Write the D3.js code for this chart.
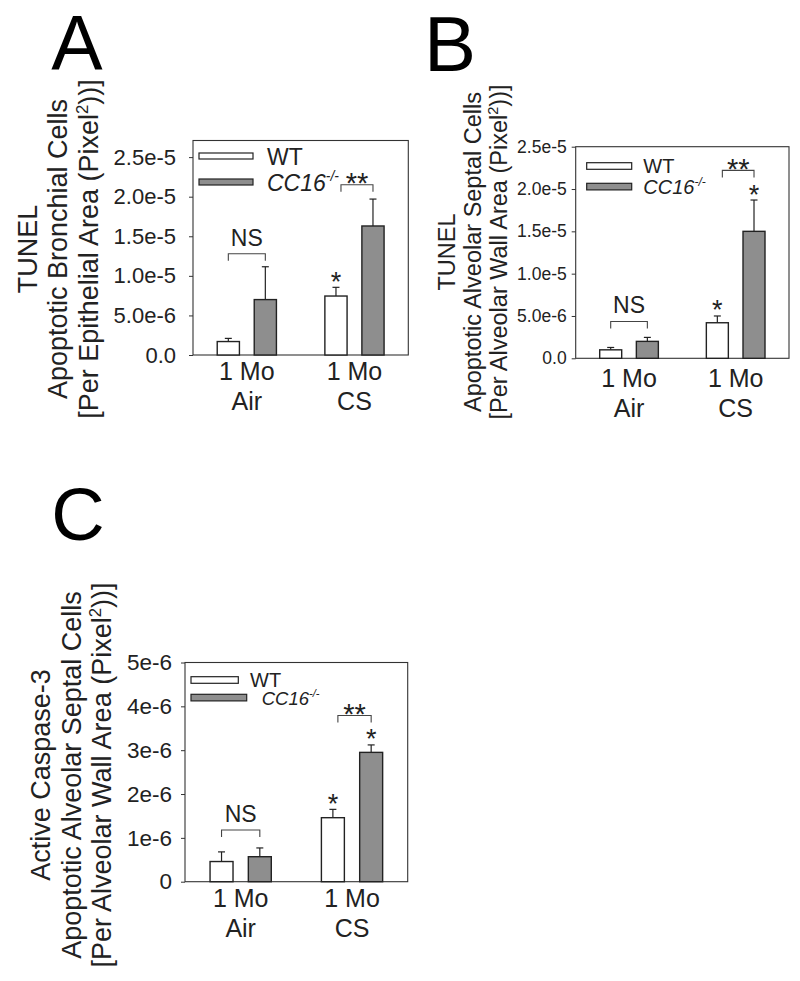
<!DOCTYPE html>
<html>
<head>
<meta charset="utf-8">
<script src="https://cdn.jsdelivr.net/npm/d3@7"></script>
<style>
  body { margin: 0; background: #fff; }
  svg { display: block; font-family: "Liberation Sans", Arial, sans-serif; }
</style>
</head>
<body>
<div id="chart"></div>
<script>
// categories / series
const categories = ['Air', 'CS'];
const catLine1 = '1 Mo';
const series = ['WT', 'CC16'];

// A: TUNEL, bronchial cells
const bronchWT = [1.7e-6, 7.45e-6];
const bronchWTErr = [0.4e-6, 1.1e-6];
const bronchKO = [7.0e-6, 1.63e-5];
const bronchKOErr = [4.15e-6, 3.4e-6];
const bronchTicks = [0, 5e-6, 1e-5, 1.5e-5, 2e-5, 2.5e-5];

// B: TUNEL, alveolar septal cells
const septalWT = [1.0e-6, 4.2e-6];
const septalWTErr = [0.28e-6, 0.8e-6];
const septalKO = [2.0e-6, 1.5e-5];
const septalKOErr = [0.47e-6, 3.7e-6];
const septalTicks = [0, 5e-6, 1e-5, 1.5e-5, 2e-5, 2.5e-5];

// C: active caspase-3, alveolar septal cells
const caspWT = [0.46e-6, 1.46e-6];
const caspWTErr = [0.22e-6, 0.19e-6];
const caspKO = [0.57e-6, 2.95e-6];
const caspKOErr = [0.2e-6, 0.17e-6];
const caspTicks = [0, 1e-6, 2e-6, 3e-6, 4e-6, 5e-6];

// significance annotations: bracket levels (data units), starred bars [catIdx, seriesIdx]
const bronchBrackets = { ns: 1.28e-5, ss: 2.15e-5 };
const bronchStars = [[1, 0]];
const septalBrackets = { ns: 4.35e-6, ss: 2.22e-5 };
const septalStars = [[1, 0], [1, 1]];
const caspBrackets = { ns: 1.18e-6, ss: 3.79e-6 };
const caspStars = [[1, 0], [1, 1]];

const fmtSci = v => v === 0 ? '0.0' : v.toExponential(1);
const fmtInt = v => v === 0 ? '0' : v.toExponential(0);

const GRAY = '#8e8e8e';
const INK = '#222';

const svg = d3.select('#chart').append('svg')
  .attr('width', 800)
  .attr('height', 981)
  .attr('viewBox', '0 0 800 981');

svg.append('rect').attr('width', 800).attr('height', 981).attr('fill', '#fff');

function drawPanel(cfg) {
  const g = svg.append('g');
  const { x0, x1, y0, y1 } = cfg.frame;

  const y = d3.scaleLinear().domain([0, cfg.yMax]).range([y1, y0]);
  const x = d3.scaleBand().domain(categories).range([x0, x1])
    .paddingInner(0.45).paddingOuter(0.225);
  const xs = d3.scaleBand().domain(series).range([0, x.bandwidth()]).paddingInner(0.4);

  // y axis
  const axis = g.append('g')
    .attr('transform', `translate(${x0},0)`)
    .call(d3.axisLeft(y).tickValues(cfg.ticks).tickFormat(cfg.fmt)
      .tickSizeInner(4).tickSizeOuter(0).tickPadding(cfg.tickPad));
  axis.select('.domain').remove();
  axis.selectAll('line').attr('stroke', '#333');
  axis.selectAll('text')
    .attr('font-size', cfg.tickSize)
    .attr('fill', INK)
    .attr('font-family', '"Liberation Sans", Arial, sans-serif');

  // frame
  g.append('rect')
    .attr('x', x0).attr('y', y0)
    .attr('width', x1 - x0).attr('height', y1 - y0)
    .attr('fill', 'none').attr('stroke', '#333').attr('stroke-width', 1.1);

  const rows = [];
  categories.forEach((c, i) => {
    rows.push({ cat: c, s: 'WT', v: cfg.wt[i], e: cfg.wtErr[i] });
    rows.push({ cat: c, s: 'CC16', v: cfg.ko[i], e: cfg.koErr[i] });
  });
  const cx = d => x(d.cat) + xs(d.s) + xs.bandwidth() / 2;

  // error bars (upper only)
  const err = g.append('g').attr('stroke', INK).attr('stroke-width', 1.2);
  err.selectAll('line.stem').data(rows).join('line')
    .attr('x1', cx).attr('x2', cx)
    .attr('y1', d => y(d.v)).attr('y2', d => y(d.v + d.e));
  err.selectAll('line.cap').data(rows).join('line')
    .attr('x1', d => cx(d) - 3.5).attr('x2', d => cx(d) + 3.5)
    .attr('y1', d => y(d.v + d.e)).attr('y2', d => y(d.v + d.e));

  // bars
  g.append('g').selectAll('rect').data(rows).join('rect')
    .attr('x', d => x(d.cat) + xs(d.s))
    .attr('y', d => y(d.v))
    .attr('width', xs.bandwidth())
    .attr('height', d => y(0) - y(d.v))
    .attr('fill', d => d.s === 'WT' ? '#fff' : GRAY)
    .attr('stroke', INK).attr('stroke-width', 1.4);

  // x labels
  categories.forEach(c => {
    const mx = x(c) + x.bandwidth() / 2;
    g.append('text').attr('x', mx).attr('y', y1 + cfg.xlab[0])
      .attr('text-anchor', 'middle').attr('font-size', cfg.xlabSize).attr('fill', INK).text(catLine1);
    g.append('text').attr('x', mx).attr('y', y1 + cfg.xlab[1])
      .attr('text-anchor', 'middle').attr('font-size', cfg.xlabSize).attr('fill', INK).text(c);
  });

  // brackets
  function bracket(cat, level, label, size, gap, dx) {
    const a = x(cat) + xs('WT') + xs.bandwidth() / 2 + dx;
    const b = x(cat) + xs('CC16') + xs.bandwidth() / 2;
    const yy = y(level);
    g.append('path')
      .attr('d', `M${a},${yy + 7}V${yy}H${b}V${yy + 7}`)
      .attr('fill', 'none').attr('stroke', '#444').attr('stroke-width', 1.1);
    g.append('text').attr('x', (a + b) / 2).attr('y', yy + gap)
      .attr('text-anchor', 'middle').attr('font-size', size).attr('fill', INK).text(label);
  }
  bracket('Air', cfg.brackets.ns, 'NS', cfg.nsSize, -8, 0);
  bracket('CS', cfg.brackets.ss, '**', 29, 8.5, 5);

  cfg.stars.forEach(([ci, si]) => {
    const d = rows[ci * 2 + si];
    g.append('text').attr('x', cx(d)).attr('y', y(d.v + d.e) + 3.5)
      .attr('text-anchor', 'middle').attr('font-size', 27).attr('fill', INK).text('*');
  });

  // legend
  const L = cfg.legend;
  [['WT', '#fff', L.w1, L.y1, L.tx1, L.fs1], ['CC16', GRAY, L.w2, L.y2, L.tx2, L.fs2]]
    .forEach(([name, fill, w, ly, tx, fs]) => {
      g.append('rect')
        .attr('x', x0 + L.x).attr('y', y0 + ly)
        .attr('width', w).attr('height', L.h)
        .attr('fill', fill).attr('stroke', INK).attr('stroke-width', 1.2);
      const t = g.append('text')
        .attr('x', x0 + tx).attr('y', y0 + ly + L.h / 2 + L.dy)
        .attr('font-size', fs).attr('fill', INK);
      if (name === 'WT') {
        t.text('WT');
      } else {
        t.attr('font-style', 'italic');
        t.append('tspan').text('CC16');
        t.append('tspan').attr('font-size', fs * 0.6).attr('dy', -fs * 0.4).text('-/-');
      }
    });

  // y label (three rotated lines)
  const yl = g.append('g').attr('transform', `translate(0,${cfg.ylab.cy})`);
  cfg.ylab.lines.forEach((line, i) => {
    const t = yl.append('text')
      .attr('transform', `translate(${cfg.ylab.bx[i]},0) rotate(-90)`)
      .attr('text-anchor', 'middle').attr('font-size', cfg.ylab.size).attr('fill', INK);
    if (line.endsWith('Pixel2))]')) {
      t.append('tspan').text(line.replace('2))]', ''));
      t.append('tspan').attr('font-size', cfg.ylab.size * 0.62).attr('dy', -cfg.ylab.size * 0.38).text('2');
      t.append('tspan').attr('dy', cfg.ylab.size * 0.38).text('))]');
    } else {
      t.text(line);
    }
  });

  // panel letter
  g.append('text').attr('x', cfg.letter.x).attr('y', cfg.letter.y)
    .attr('text-anchor', 'middle').attr('font-size', cfg.letter.size).attr('fill', '#000')
    .text(cfg.letter.t);
}

drawPanel({
  frame: { x0: 193, x1: 408.3, y0: 140.5, y1: 355 },
  yMax: 2.71e-5, ticks: bronchTicks, fmt: fmtSci, tickPad: 13, tickSize: 22,
  wt: bronchWT, wtErr: bronchWTErr, ko: bronchKO, koErr: bronchKOErr,
  brackets: bronchBrackets, stars: bronchStars, nsSize: 23,
  xlab: [25, 55], xlabSize: 25,
  legend: { x: 6, w1: 54, w2: 54, y1: 12.5, y2: 38.5, h: 6, tx1: 74, tx2: 74, fs1: 23, fs2: 23, dy: 8.5 },
  ylab: { cy: 249, bx: [36.5, 67, 98], size: 27,
    lines: ['TUNEL', 'Apoptotic Bronchial Cells', '[Per Epithelial Area (Pixel2))]'] },
  letter: { t: 'A', x: 77, y: 70, size: 77 }
});

drawPanel({
  frame: { x0: 575.7, x1: 789, y0: 146.7, y1: 358.3 },
  yMax: 2.5e-5, ticks: septalTicks, fmt: fmtSci, tickPad: 5, tickSize: 17.5,
  wt: septalWT, wtErr: septalWTErr, ko: septalKO, koErr: septalKOErr,
  brackets: septalBrackets, stars: septalStars, nsSize: 23,
  xlab: [28.4, 58.4], xlabSize: 25,
  legend: { x: 11, w1: 45, w2: 45, y1: 16, y2: 36.6, h: 6.6, tx1: 67.6, tx2: 67.6, fs1: 20, fs2: 20, dy: 7.2 },
  ylab: { cy: 252, bx: [455, 480.5, 506.5], size: 23.5,
    lines: ['TUNEL', 'Apoptotic Alveolar Septal Cells', '[Per Alveolar Wall Area (Pixel2))]'] },
  letter: { t: 'B', x: 450, y: 71, size: 78 }
});

drawPanel({
  frame: { x0: 185, x1: 407.7, y0: 662.5, y1: 881.7 },
  yMax: 5e-6, ticks: caspTicks, fmt: fmtInt, tickPad: 9, tickSize: 22.5,
  wt: caspWT, wtErr: caspWTErr, ko: caspKO, koErr: caspKOErr,
  brackets: caspBrackets, stars: caspStars, nsSize: 23,
  xlab: [25, 55], xlabSize: 25,
  legend: { x: 6, w1: 47.3, w2: 55.7, y1: 14.2, y2: 31.8, h: 6.6, tx1: 65, tx2: 76.7, fs1: 20, fs2: 18.5, dy: 7 },
  ylab: { cy: 775, bx: [50, 80.5, 111], size: 27,
    lines: ['Active Caspase-3', 'Apoptotic Alveolar Septal Cells', '[Per Alveolar Wall Area (Pixel2))]'] },
  letter: { t: 'C', x: 78, y: 540, size: 74 }
});
</script>
</body>
</html>
